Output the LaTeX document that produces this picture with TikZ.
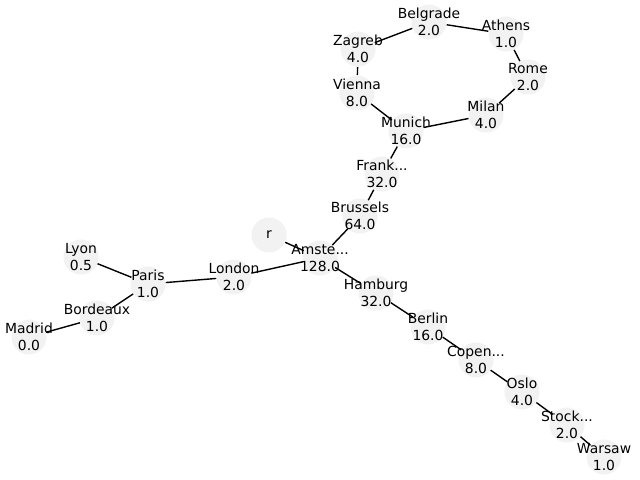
\documentclass[tikz,border=0pt]{standalone}
\usepackage{fontspec}
\setmainfont{DejaVu Sans}
\usetikzlibrary{backgrounds}
\tikzset{
  city/.style={circle, fill=black!5, minimum size=25.2pt, inner sep=0pt},
  citytext/.style={align=center, inner sep=0pt, font=\fontsize{10}{12}\selectfont},
  route/.style={line width=1pt, black}
}
\newcommand{\city}[4]{\node[city, label={[citytext]center:#3}] (#1) at #2 {};}
\begin{document}
\begin{tikzpicture}[x=0.72pt, y=-0.72pt]
    \useasboundingbox (0,0) rectangle (640,480);
    % Cities (upper ring)
    \city{belgrade}{(429,22)}{Belgrade\\2.0}{}
    \city{athens}{(506,34)}{Athens\\1.0}{}
    \city{zagreb}{(358,49)}{Zagreb\\4.0}{}
    \city{rome}{(528,77)}{Rome\\2.0}{}
    \city{vienna}{(357,93)}{Vienna\\8.0}{}
    \city{milan}{(486,115)}{Milan\\4.0}{}
    \city{munich}{(406,131)}{Munich\\16.0}{}
    \city{frankfurt}{(382,174)}{Frank...\\32.0}{}
    \city{brussels}{(360,216)}{Brussels\\64.0}{}
    % Centre
    \city{r}{(269,235)}{r}{}
    \city{amsterdam}{(320,258)}{Amste...\\128.0}{}
    % West branch
    \city{london}{(234,277)}{London\\2.0}{}
    \city{paris}{(148,284)}{Paris\\1.0}{}
    \city{lyon}{(81,257)}{Lyon\\0.5}{}
    \city{bordeaux}{(97,318)}{Bordeaux\\1.0}{}
    \city{madrid}{(29,337)}{Madrid\\0.0}{}
    % North-east branch
    \city{hamburg}{(376,293)}{Hamburg\\32.0}{}
    \city{berlin}{(428,327)}{Berlin\\16.0}{}
    \city{copenhagen}{(476,360)}{Copen...\\8.0}{}
    \city{oslo}{(522,392)}{Oslo\\4.0}{}
    \city{stockholm}{(567,425)}{Stock...\\2.0}{}
    \city{warsaw}{(604,457)}{Warsaw\\1.0}{}
    % Routes
    \begin{scope}[on background layer]
    \foreach \a/\b in {belgrade/athens, belgrade/zagreb, zagreb/vienna,
        athens/rome, rome/milan, vienna/munich, milan/munich,
        munich/frankfurt, frankfurt/brussels, brussels/amsterdam,
        r/amsterdam, amsterdam/london, amsterdam/hamburg,
        london/paris, paris/lyon, paris/bordeaux, bordeaux/madrid,
        hamburg/berlin, berlin/copenhagen, copenhagen/oslo,
        oslo/stockholm, stockholm/warsaw}
      \draw[route] (\a) -- (\b);
    \end{scope}
\end{tikzpicture}
\end{document}
